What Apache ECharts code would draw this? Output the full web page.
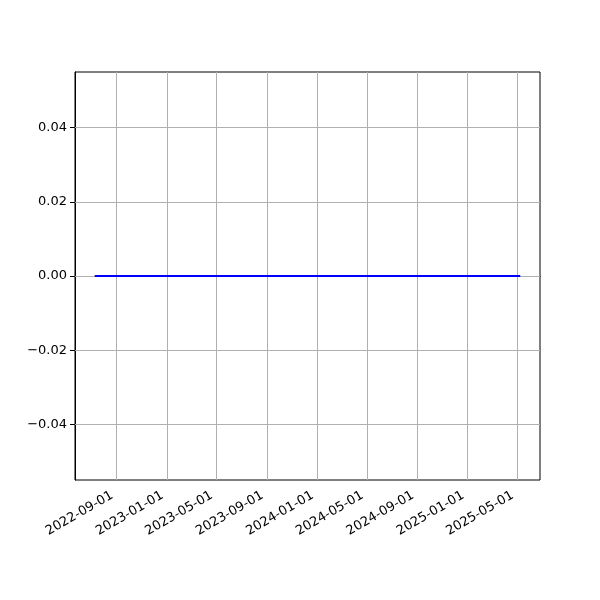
<!DOCTYPE html>
<html>
<head>
<meta charset="utf-8">
<script src="https://cdn.jsdelivr.net/npm/echarts@6/dist/echarts.min.js"></script>
<style>html,body{margin:0;padding:0;background:#fff}#c{width:600px;height:600px}</style>
</head>
<body>
<div id="c"></div>
<script>
var dates = ['2022-07-10','2022-09-01','2022-11-01','2023-01-01','2023-03-01','2023-05-01','2023-07-01','2023-09-01','2023-11-01','2024-01-01','2024-03-01','2024-05-01','2024-07-01','2024-09-01','2024-11-01','2025-01-01','2025-03-01','2025-05-09'];
var values = [0,0,0,0,0,0,0,0,0,0,0,0,0,0,0,0,0,0];
var xTicks = ['2022-09-01','2023-01-01','2023-05-01','2023-09-01','2024-01-01','2024-05-01','2024-09-01','2025-01-01','2025-05-01'];
var yTicks = [-0.04,-0.02,0,0.02,0.04];
var xMin = '2022-05-23', xMax = '2025-06-26';
var yMin = -0.055, yMax = 0.055;

function ts(s){ return new Date(s + 'T00:00:00Z').getTime(); }
function pad(n){ return (n<10?'0':'')+n; }
function fmtDate(v){ var d=new Date(v); return d.getUTCFullYear()+'-'+pad(d.getUTCMonth()+1)+'-'+pad(d.getUTCDate()); }
function fmtY(v){ var s=Math.abs(v).toFixed(2); return (v< -1e-12 ? '\u2212' : '') + s; }

var chart = echarts.init(document.getElementById('c'), null, {renderer:'canvas'});
var font = 'DejaVu Sans';
chart.setOption({
  animation:false,
  backgroundColor:'#fff',
  grid:{left:75, right:60, top:72, bottom:120, show:true, borderColor:'#000', borderWidth:1, backgroundColor:'transparent', containLabel:false},
  xAxis:{
    type:'value', min:ts(xMin), max:ts(xMax),
    axisLine:{show:true, lineStyle:{color:'#000', width:1}},
    axisTick:{show:true, customValues:xTicks.map(ts), length:5, inside:false, lineStyle:{color:'#000'}},
    axisLabel:{customValues:xTicks.map(ts), rotate:30, formatter:fmtDate, color:'#000', fontFamily:font, fontSize:13, margin:12, padding:[0,5,0,0]},
    splitLine:{show:false}
  },
  yAxis:{
    type:'value', min:yMin, max:yMax,
    axisLine:{show:true, lineStyle:{color:'#000', width:1}},
    axisTick:{show:true, customValues:yTicks, length:5, lineStyle:{color:'#000'}},
    axisLabel:{customValues:yTicks, formatter:fmtY, color:'#000', fontFamily:font, fontSize:13, margin:8},
    splitLine:{show:false}
  },
  series:[
    {type:'line', data:[], silent:true,
     markLine:{silent:true, symbol:'none', label:{show:false}, animation:false,
       lineStyle:{color:'#b0b0b0', width:1, type:'solid'},
       data: xTicks.map(function(t){return {xAxis:ts(t)};}).concat(yTicks.map(function(v){return {yAxis:v};}))
     }},
    {type:'line', data:dates.map(function(d,i){return [ts(d), values[i]];}),
     showSymbol:false, symbol:'none', z:5,
     lineStyle:{color:'#0000ff', width:2}}
  ]
});
</script>
</body>
</html>
